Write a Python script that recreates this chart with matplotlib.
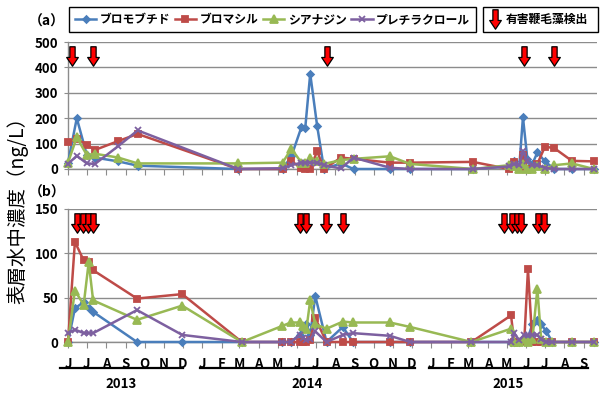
import datetime as dt

import matplotlib
matplotlib.use('Agg')
import matplotlib.pyplot as plt
import matplotlib.dates as mdates
from matplotlib.path import Path
from matplotlib.lines import Line2D
from matplotlib.ticker import FuncFormatter

plt.rcParams['font.family'] = ['Noto Sans CJK JP', 'DejaVu Sans']

NAMES = ['ブロモブチド', 'ブロマシル', 'シアナジン', 'プレチラクロール']
COLORS = ['#4A7EBB', '#BE4B48', '#98B954', '#7D60A0']
MARKERS = ['D', 's', '^', 'x']
MSIZES = [3.5, 5.0, 5.5, 5.0]

# site (a)
dates_a = ['2013-06-01', '2013-06-15', '2013-07-01', '2013-07-14', '2013-08-20',
           '2013-09-20', '2014-02-27', '2014-05-09', '2014-05-23', '2014-06-08',
           '2014-06-14', '2014-06-22', '2014-07-03', '2014-07-14', '2014-08-10',
           '2014-08-30', '2014-10-27', '2014-11-28', '2015-03-08', '2015-05-05',
           '2015-05-13', '2015-05-21', '2015-05-27', '2015-06-03', '2015-06-11',
           '2015-06-19', '2015-07-01', '2015-07-16', '2015-08-13', '2015-09-17']
bromobutide_a = [25, 200, 55, 45, 30, 13, 0, 0, 50, 165, 160, 375, 170, 0, 22,
                 0, 0, 0, 0, 10, 30, 5, 204, 40, 20, 65, 30, 0, 0, 0]
bromacil_a = [105, 120, 95, 75, 110, 138, 0, 0, 30, 5, 0, 0, 70, 0, 45,
              40, 25, 25, 28, 0, 28, 0, 55, 0, 0, 20, 88, 82, 32, 30]
cyanazine_a = [25, 125, 55, 60, 45, 22, 22, 25, 80, 25, 25, 45, 30, 20, 35,
               40, 50, 20, 0, 15, 10, 0, 20, 0, 0, 10, 0, 15, 22, 0]
pretilachlor_a = [20, 52, 22, 20, 90, 152, 0, 3, 15, 25, 25, 25, 25, 15, 2,
                  45, 5, 0, 0, 10, 20, 15, 70, 30, 15, 15, 5, 0, 0, 0]
hab_a = ['2013-06-07', '2013-07-11', '2014-07-18', '2015-05-29', '2015-07-16']

# site (b)
dates_b = ['2013-06-01', '2013-06-12', '2013-06-26', '2013-07-04', '2013-07-11',
           '2013-09-19', '2013-11-30', '2014-03-05', '2014-05-08', '2014-05-22',
           '2014-06-05', '2014-06-10', '2014-06-16', '2014-06-22', '2014-06-30',
           '2014-07-18', '2014-08-13', '2014-08-29', '2014-10-27', '2014-11-28',
           '2015-03-06', '2015-05-08', '2015-05-13', '2015-05-21', '2015-05-29',
           '2015-06-04', '2015-06-11', '2015-06-19', '2015-06-25', '2015-07-03',
           '2015-07-13', '2015-08-13', '2015-09-17']
bromobutide_b = [0, 38, 45, 38, 34, 0, 0, 0, 0, 0, 8, 15, 20, 8, 52, 0, 17,
                 0, 0, 0, 0, 0, 0, 0, 5, 5, 20, 25, 20, 12, 0, 0, 0]
bromacil_b = [0, 113, 92, 90, 81, 49, 54, 0, 0, 0, 0, 0, 0, 2, 27, 0, 0,
              0, 0, 0, 0, 30, 0, 0, 0, 82, 0, 0, 0, 0, 0, 0, 0]
cyanazine_b = [0, 58, 42, 90, 47, 25, 41, 0, 18, 22, 22, 18, 15, 47, 20, 15, 23,
               22, 22, 17, 0, 15, 0, 0, 3, 0, 3, 60, 3, 0, 0, 0, 0]
pretilachlor_b = [10, 14, 10, 10, 10, 36, 8, 0, 0, 0, 8, 5, 2, 3, 12, 0, 8,
                  10, 7, 0, 0, 0, 10, 2, 8, 8, 8, 8, 3, 0, 0, 0, 0]
hab_b = ['2013-06-15', '2013-06-25', '2013-07-03', '2013-07-11', '2014-06-05',
         '2014-06-16', '2014-07-17', '2014-08-13', '2015-04-27', '2015-05-10',
         '2015-05-18', '2015-05-24', '2015-06-20', '2015-06-30']

years = ['2013', '2014', '2015']


def to_dates(lst):
    return [dt.datetime.strptime(s, '%Y-%m-%d') for s in lst]


# red down arrow used for harmful flagellate detections
ARROW = Path([(-0.27, 1), (0.27, 1), (0.27, -0.1), (0.6, -0.1), (0, -1),
              (-0.6, -0.1), (-0.27, -0.1), (-0.27, 1)],
             [Path.MOVETO] + [Path.LINETO] * 6 + [Path.CLOSEPOLY])

W, H = 606, 393
fig = plt.figure(figsize=(W / 100, H / 100), dpi=100)
ax_a = fig.add_axes([68 / W, 1 - 169 / H, 529 / W, 127 / H])
ax_b = fig.add_axes([68 / W, 1 - 342 / H, 529 / W, 133 / H])

x_start = dt.datetime(2013, 6, 1)
x_end = dt.datetime(2015, 9, 22)
month_fmt = FuncFormatter(lambda v, p: mdates.num2date(v).strftime('%b')[0])

panels = [
    (ax_a, dates_a, [bromobutide_a, bromacil_a, cyanazine_a, pretilachlor_a],
     hab_a, 445, 500, 100),
    (ax_b, dates_b, [bromobutide_b, bromacil_b, cyanazine_b, pretilachlor_b],
     hab_b, 134, 150, 50),
]

handles = []
for ax, dates, series, hab, hab_y, ymax, ystep in panels:
    xs = to_dates(dates)
    for vals, name, c, m, ms in zip(series, NAMES, COLORS, MARKERS, MSIZES):
        ln, = ax.plot(xs, vals, color=c, lw=1.8, marker=m, ms=ms, mfc=c, mec=c,
                      mew=1.3, label=name, clip_on=False, zorder=3)
        if ax is ax_a:
            handles.append(ln)
    ax.plot(to_dates(hab), [hab_y] * len(hab), ls='none', marker=ARROW, ms=14,
            mfc='#FF0000', mec='black', mew=0.9, zorder=4, clip_on=False)

    ax.set_xlim(x_start, x_end)
    ax.set_ylim(0, ymax)
    ax.set_yticks(range(0, ymax + 1, ystep))
    ax.yaxis.grid(True, color='#8C8C8C', lw=1)
    ax.set_axisbelow(True)
    ax.xaxis.set_major_locator(mdates.MonthLocator())
    ax.xaxis.set_major_formatter(month_fmt)
    for side in ['top', 'right']:
        ax.spines[side].set_visible(False)
    for side in ['left', 'bottom']:
        ax.spines[side].set_color('#8C8C8C')
        ax.spines[side].set_linewidth(1)
    ax.tick_params(axis='x', direction='out', length=4, color='#8C8C8C',
                   pad=7, labelsize=9.5)
    ax.tick_params(axis='y', length=3, color='#8C8C8C', pad=4, labelsize=9.5)
    for lab in ax.get_xticklabels() + ax.get_yticklabels():
        lab.set_fontweight('bold')

ax_a.tick_params(axis='x', labelbottom=False)

fig.text(47 / W, 1 - 22 / H, '（a）', ha='center', va='center', fontsize=10,
         fontweight='bold')
fig.text(47 / W, 1 - 193 / H, '（b）', ha='center', va='center', fontsize=10,
         fontweight='bold')
fig.text(18 / W, 1 - 205 / H, '表層水中濃度（ng/L）', rotation=90, ha='center',
         va='center', fontsize=14)

# year brackets under the month letters
year_spans = [(60, 183), (200, 415), (429, 588)]
for yr, (x0, x1) in zip(years, year_spans):
    fig.add_artist(Line2D([x0 / W, x1 / W], [1 - 368 / H] * 2, color='black',
                          lw=1.6, transform=fig.transFigure))
    fig.text((x0 + x1) / 2 / W, 1 - 384 / H, yr, ha='center', va='center',
             fontsize=9.5, fontweight='bold')

leg1 = fig.legend(handles, NAMES, loc='lower left', ncol=4, mode='expand',
                  bbox_to_anchor=(69 / W, 1 - 32 / H, 407 / W, 30 / H),
                  borderaxespad=0, fancybox=False, edgecolor='black',
                  framealpha=1, handlelength=1.8, handletextpad=0.3,
                  columnspacing=0.4, borderpad=0.5,
                  prop={'size': 8.5, 'weight': 'bold'})
leg1.get_frame().set_linewidth(1)

arrow_handle = Line2D([], [], ls='none', marker=ARROW, ms=14, mfc='#FF0000',
                      mec='black', mew=0.9)
leg2 = fig.legend([arrow_handle], ['有害鞭毛藻検出'], loc='lower left',
                  mode='expand',
                  bbox_to_anchor=(483 / W, 1 - 32 / H, 115 / W, 30 / H),
                  borderaxespad=0, fancybox=False, edgecolor='black',
                  framealpha=1, handlelength=1.0, handletextpad=0.4,
                  borderpad=0.5, prop={'size': 8.5, 'weight': 'bold'})
leg2.get_frame().set_linewidth(1)

fig.savefig('out.png', dpi=100)
